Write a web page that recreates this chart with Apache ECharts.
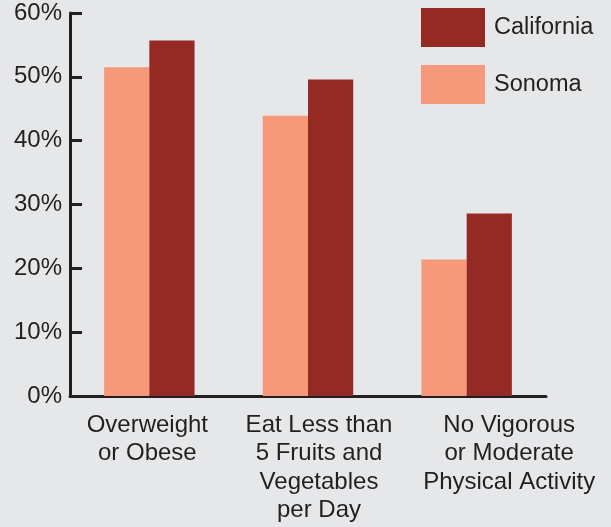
<!DOCTYPE html>
<html><head><meta charset="utf-8">
<script src="https://cdn.jsdelivr.net/npm/echarts@6/dist/echarts.min.js"></script>
<style>html,body{margin:0;padding:0;background:#e6e7e8}#c{width:611px;height:527px}</style>
</head><body><div id="c"></div>
<script>
const categories = ["Overweight\nor Obese", "Eat Less than\n5 Fruits and\nVegetables\nper Day", "No Vigorous\nor Moderate\nPhysical Activity"];
const sonoma = [51.5, 43.9, 21.4];
const california = [55.7, 49.6, 28.6];
const yTicks = [0, 10, 20, 30, 40, 50, 60];

const chart = echarts.init(document.getElementById('c'));
const font = 'Liberation Sans, Arial, sans-serif';
const lab = {fontFamily: font, fontSize: 24, color: '#231f20', lineHeight: 28.5};
chart.setOption({
  backgroundColor: '#e6e7e8',
  animation: false,
  grid: {left: 70, right: 65, top: 13, bottom: 131},
  legend: {
    orient: 'vertical', left: 416, top: 3,
    itemWidth: 64, itemHeight: 39, itemGap: 18,
    icon: 'rect',
    data: ['California', 'Sonoma'],
    textStyle: {fontFamily: font, fontSize: 23.5, color: '#231f20', padding: [0,0,0,4]}
  },
  xAxis: {
    type: 'category', data: categories,
    axisLine: {lineStyle: {color: '#231f20', width: 3}},
    axisTick: {inside: true, length: 9, lineStyle: {color: '#231f20', width: 3}},
    axisLabel: {fontFamily: font, fontSize: 24, color: '#231f20', lineHeight: 28.5, margin: 15, interval: 0,
      formatter: (v, i) => v.split('\n').map(s => '{g' + i + '|' + s + '}').join('\n'),
      rich: {
        g0: Object.assign({padding: [0, 4, 0, 0]}, lab),
        g1: Object.assign({padding: [0, 0, 0, 22]}, lab),
        g2: Object.assign({padding: [0, 0, 0, 85]}, lab)
      }}
  },
  yAxis: {
    type: 'value', min: 0, max: 60, interval: 10,
    axisLine: {show: true, lineStyle: {color: '#231f20', width: 3}},
    axisTick: {show: true, inside: true, length: 12, lineStyle: {color: '#231f20', width: 3}},
    splitLine: {show: false},
    axisLabel: {fontFamily: font, fontSize: 24, color: '#231f20', margin: 8,
      formatter: v => yTicks.includes(v) ? v + '%' : ''}
  },
  series: [
    {name: 'Sonoma', type: 'bar', data: sonoma, barGap: '0%', barCategoryGap: '43%',
     itemStyle: {color: '#f5997a'}},
    {name: 'California', type: 'bar', data: california, barGap: '0%', barCategoryGap: '43%',
     itemStyle: {color: '#952a25'}}
  ]
});
</script></body></html>
